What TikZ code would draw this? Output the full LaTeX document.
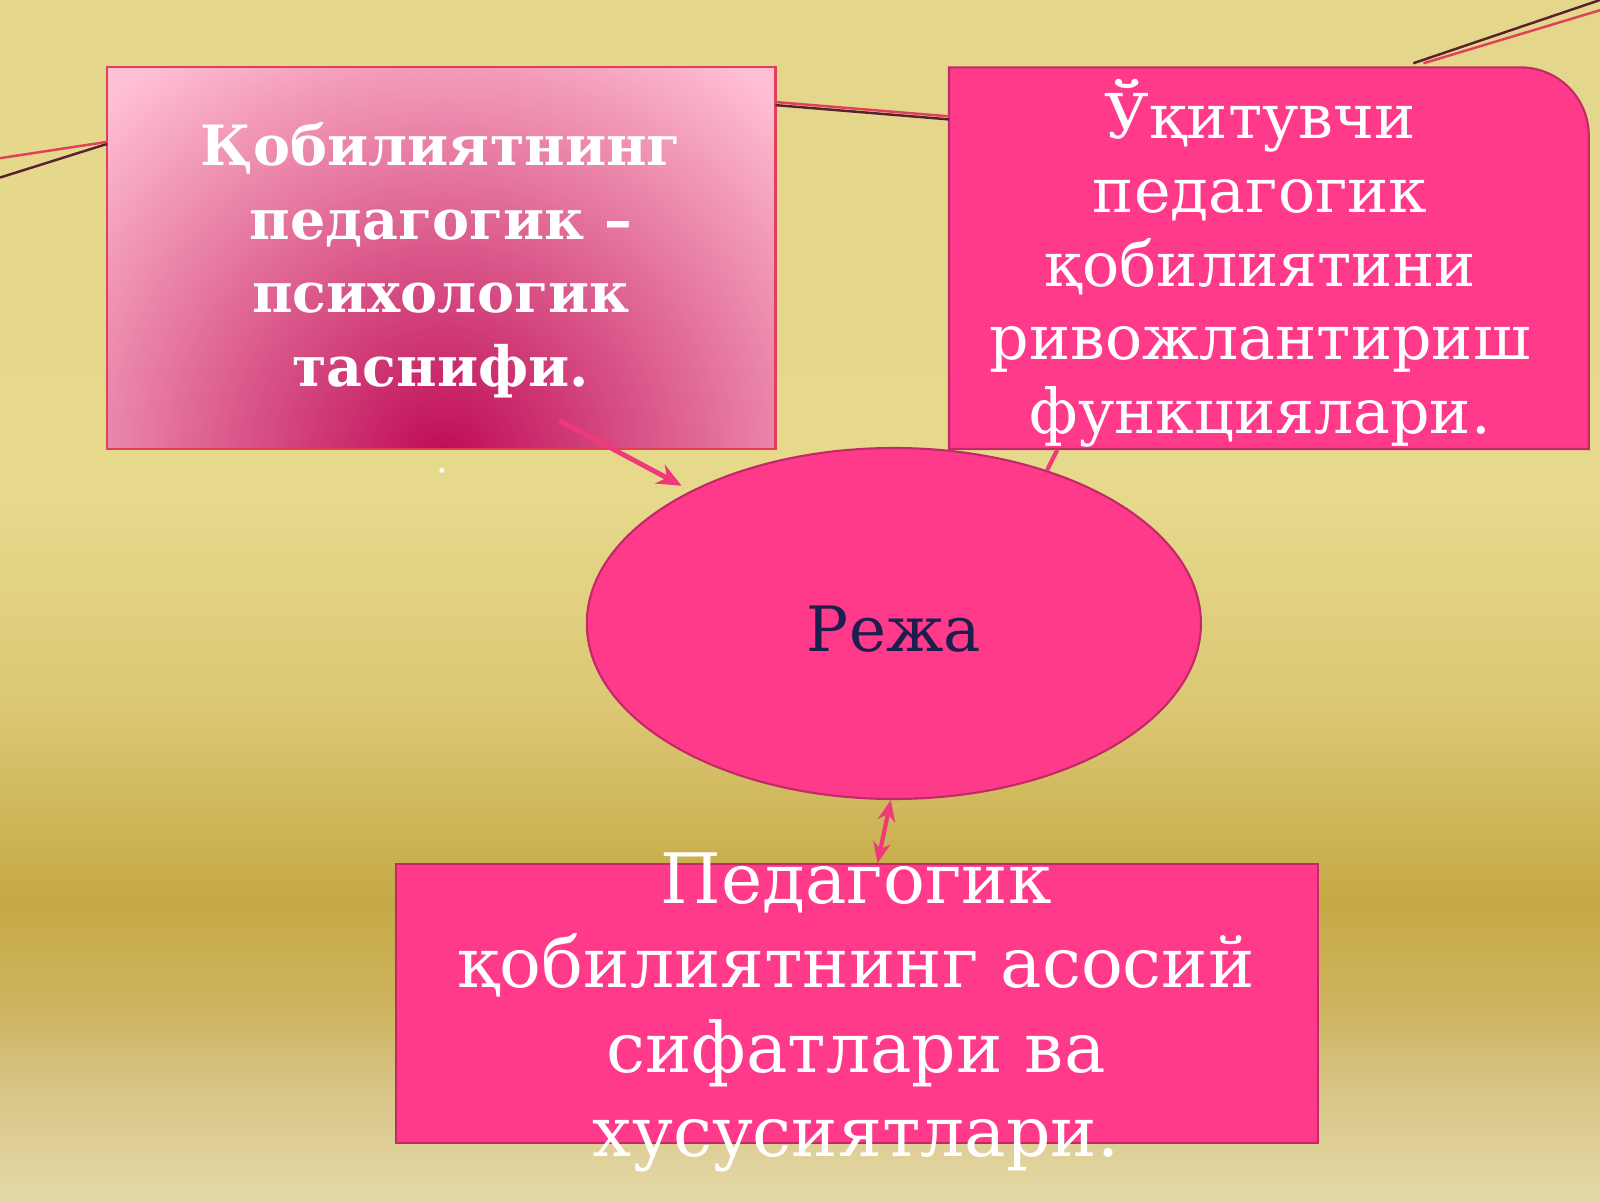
\documentclass[tikz,border=0pt]{standalone}
\usepackage{fontspec}
\setmainfont{DejaVu Serif}
\usetikzlibrary{shapes.geometric,arrows.meta}
\definecolor{hotpink}{HTML}{FF3A8A}
\definecolor{boxedge}{HTML}{C02A66}
\definecolor{lightpk}{HTML}{FFBFD2}
\definecolor{deeppk}{HTML}{BE0A55}
\definecolor{navytxt}{HTML}{1C1F4E}
\definecolor{arrowpk}{HTML}{EE3A78}
\definecolor{linered}{HTML}{E0405A}
\definecolor{linedark}{HTML}{5A2030}
\definecolor{bgA}{HTML}{E4D78B}
\definecolor{bgB}{HTML}{E6D98C}
\definecolor{bgC}{HTML}{DCC875}
\definecolor{bgD}{HTML}{C6A946}
\definecolor{bgE}{HTML}{CDB35C}
\definecolor{bgF}{HTML}{D9C68A}
\definecolor{bgG}{HTML}{E4D9A6}
\pgfdeclareverticalshading{slidebg}{100bp}{color(0bp)=(bgG); color(25bp)=(bgG); color(29.2bp)=(bgF); color(33.3bp)=(bgE); color(37.5bp)=(bgD); color(45.8bp)=(bgC); color(54.2bp)=(bgB); color(75bp)=(bgA); color(100bp)=(bgA)}
\tikzset{
  whitetxt/.style={text=white, align=center, inner sep=0pt},
  conn/.style={draw=arrowpk, line width=1.4pt},
  tipA/.style={-{Stealth[length=7pt,width=6pt]}},
  tipB/.style={{Stealth[length=6pt,width=5pt]}-{Stealth[length=6pt,width=5pt]}},
  deco/.style={line width=0.7pt}
}
\begin{document}
\begin{tikzpicture}[x=0.0102041cm,y=-0.0102041cm]
\useasboundingbox (0,0) rectangle (1568,1176);
% background
\shade[shading=slidebg] (0,0) rectangle (1568,1176);

% decorative strings
\coordinate (sL1) at (0,155);
\coordinate (sL2) at (0,174);
\coordinate (sM1) at (930,117);
\coordinate (sR1) at (1568,0);
\coordinate (sR2) at (1568,10);

% left box (gradient)
\node[draw=linered, line width=0.6pt, minimum width=190.2pt, minimum height=108.6pt, inner sep=0pt] (lbox) at (432.5,253) {};
\begin{scope}
  \clip (105,66) rectangle (760,440);
  \fill[lightpk] (105,66) rectangle (760,440);
  \shade[inner color=deeppk, outer color=lightpk] (435,452) circle (480);
\end{scope}
\draw[linered, line width=0.6pt] (105,66) rectangle (760,440);
\fill[white, opacity=0.85] (433,461) circle (2.5);

% right box with rounded top-right corner
\node[minimum width=182pt, minimum height=108.6pt, inner sep=0pt] (rbox) at (1243.5,253) {};
\draw[boxedge, fill=hotpink, line width=0.6pt] (930,440) -- (930,66) -- (1490,66) arc[start angle=-90, end angle=0, radius=67] -- (1557,440) -- cycle;

% bottom box
\node[draw=boxedge, fill=hotpink, line width=0.6pt, minimum width=262.5pt, minimum height=79.3pt, inner sep=0pt] (bbox) at (840,983.5) {};

% decorative strings drawn
\draw[deco, linedark] (sL2) -- (105,141);
\draw[deco, linered] (sL1) -- (105,139);
\draw[deco, linedark] (760,103) -- (sM1);
\draw[deco, linered] (760,100) -- (930,114);
\draw[deco, linedark] (1385,62) -- (sR1);
\draw[deco, linered] (1395,62) -- (sR2);

% connectors
\coordinate (c1) at (548,412);
\coordinate (c2) at (1036,441);
\draw[conn, tipA] (c1) -- (668,476);

% ellipse
\node[ellipse, draw=boxedge, fill=hotpink, line width=0.6pt, minimum width=174.8pt, minimum height=99.9pt, inner sep=0pt] (ell) at (876,611) {};
\draw[conn, line width=1.2pt] (c2) -- (ell.45);
\draw[conn, tipB, line width=1.2pt] (ell.269) -- ([shift={(20,0)}]bbox.north);

% texts
\node[whitetxt, font=\fontsize{15.8pt}{20.9pt}\selectfont\bfseries] (ltxt) at (432,255)
  {Қобилиятнинг\\педагогик –\\психологик\\таснифи.};
\node[whitetxt, font=\fontsize{17.6pt}{21pt}\selectfont] (rtxt) at (1235,258)
  {Ўқитувчи\\педагогик\\қобилиятини\\ривожлантириш\\функциялари.};
\node[whitetxt, font=\fontsize{19.8pt}{24pt}\selectfont] (btxt) at (839,992)
  {Педагогик\\қобилиятнинг асосий\\сифатлари ва\\хусусиятлари.};
\node[text=navytxt, inner sep=0pt, font=\fontsize{17.8pt}{20pt}\selectfont] (rtitle) at (876,617) {Режа};
\end{tikzpicture}
\end{document}
